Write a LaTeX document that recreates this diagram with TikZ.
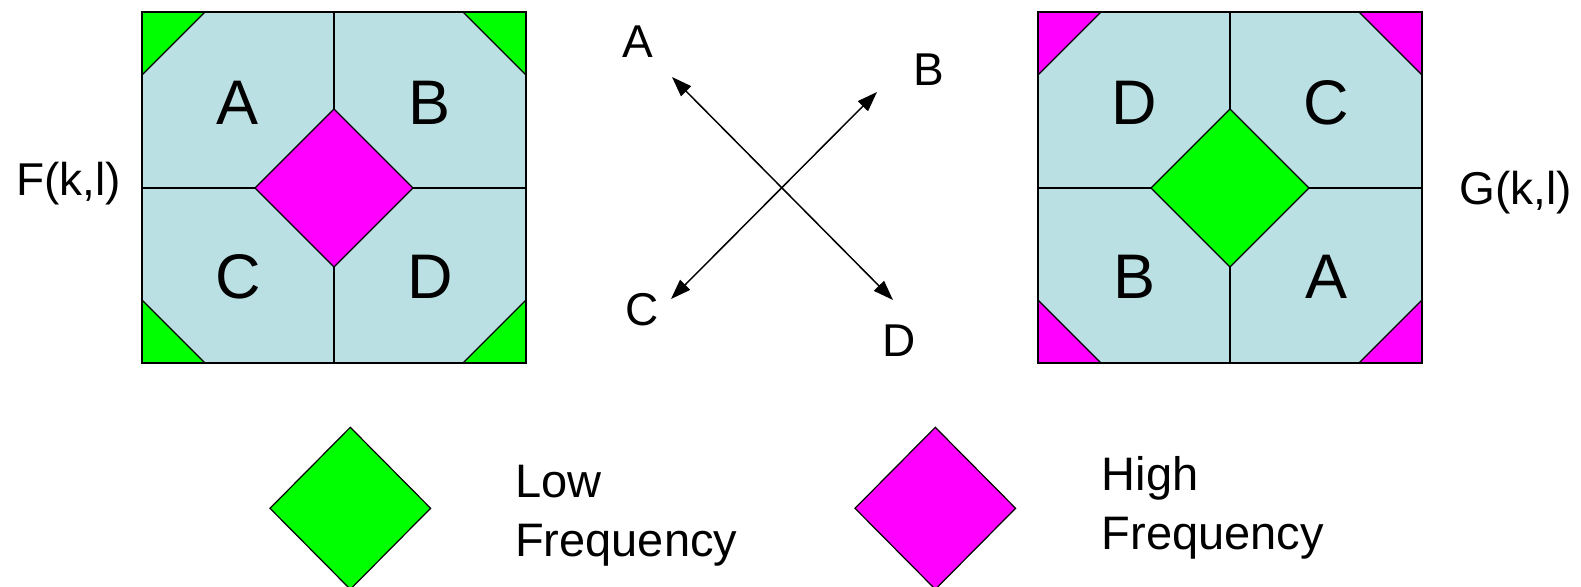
\documentclass[tikz,border=0pt]{standalone}
\usepackage{fontspec}
\setmainfont{Liberation Sans}
\usetikzlibrary{arrows.meta,positioning}
\definecolor{paleblue}{RGB}{187,224,227}
\definecolor{lowfreq}{RGB}{0,255,0}
\definecolor{highfreq}{RGB}{255,0,255}
\tikzset{
	quadbox/.style = {draw, line width = 1.5pt, fill = paleblue},
	facet/.style = {draw, line width = 1.2pt},
	bigletter/.style = {font = \fontsize{63}{63}\selectfont, inner sep = 0pt, anchor = base},
	smallletter/.style = {font = \fontsize{46}{46}\selectfont, inner sep = 0pt, anchor = base},
	legendtext/.style = {font = \fontsize{47}{56}\selectfont, align = left, inner sep = 0pt, anchor = base west},
	swaparrow/.style = {line width = 1.5pt, {Triangle[length = 20pt, width = 14pt]}-{Triangle[length = 20pt, width = 14pt]}}
}
% #1 = centre x, #2 = corner colour, #3 = centre colour
\newcommand\quadpanel[3]{%
	\draw[quadbox] (#1-192,12) rectangle (#1+192,363);
	\draw[facet, fill = #2] (#1-192,12) -- (#1-129,12) -- (#1-192,75) -- cycle;
	\draw[facet, fill = #2] (#1+192,12) -- (#1+129,12) -- (#1+192,75) -- cycle;
	\draw[facet, fill = #2] (#1-192,363) -- (#1-129,363) -- (#1-192,300) -- cycle;
	\draw[facet, fill = #2] (#1+192,363) -- (#1+129,363) -- (#1+192,300) -- cycle;
	\draw[facet, fill = #3] (#1-79,188) -- (#1,109) -- (#1+79,188) -- (#1,267) -- cycle;
	\draw[facet] (#1,12) -- (#1,109) (#1,267) -- (#1,363) (#1-192,188) -- (#1-79,188) (#1+79,188) -- (#1+192,188);
	\draw[line width = 1.5pt] (#1-192,12) rectangle (#1+192,363);
}

\begin{document}
\begin{tikzpicture}[x = 1pt, y = -1pt]
	\useasboundingbox (0,0) rectangle (1581,586);
	% F(k,l)
	\quadpanel{334}{lowfreq}{highfreq}
	\node[bigletter] (fa) at (238,124.3) {A};
	\node[bigletter] (fb) at (430,124.3) {B};
	\node[bigletter] (fc) at (238,298.5) {C};
	\node[bigletter] (fd) at (430,298.5) {D};
	\node[smallletter] (f) at (68.4,195) {F(k,l)};
	% G(k,l)
	\quadpanel{1230}{highfreq}{lowfreq}
	\node[bigletter] (gd) at (1134,124.3) {D};
	\node[bigletter] (gc) at (1326,124.3) {C};
	\node[bigletter] (gb) at (1134,298.5) {B};
	\node[bigletter] (ga) at (1326,298.5) {A};
	\node[smallletter] (g) at (1515.5,204) {G(k,l)};
	% quadrant swap
	\node[smallletter] (lbl_a) at (637.5,58) {A};
	\node[smallletter] (lbl_b) at (929,85) {B};
	\node[smallletter] (lbl_c) at (642.5,325) {C};
	\node[smallletter] (lbl_d) at (899.5,356) {D};
	\coordinate (tip_a) at (672,77);
	\coordinate (tip_d) at (893,300);
	\coordinate (tip_b) at (877,92);
	\coordinate (tip_c) at (671,299);
	\draw[swaparrow] (tip_a) -- (tip_d);
	\draw[swaparrow] (tip_b) -- (tip_c);
	% legend
	\draw[facet, fill = lowfreq] (270,508.3) -- (350.3,427.3) -- (430.6,508.3) -- (350.3,589.3) -- cycle;
	\node[legendtext] (low) at (515,556.7) {Low\\[3pt]Frequency};
	\draw[facet, fill = highfreq] (855,508.3) -- (935.3,427.3) -- (1015.6,508.3) -- (935.3,589.3) -- cycle;
	\node[legendtext] (high) at (1101.7,549.3) {High\\[3pt]Frequency};
\end{tikzpicture}
\end{document}
